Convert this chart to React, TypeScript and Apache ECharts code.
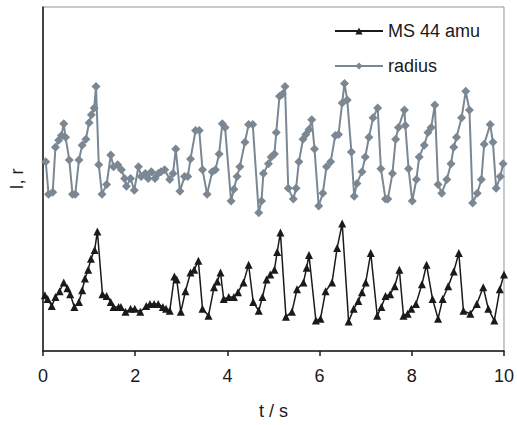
import React, { useEffect, useRef } from "react";
import * as echarts from "echarts";

// time (s) and intensity (arbitrary units)
const msTime = [0.04,0.10,0.19,0.27,0.36,0.45,0.53,0.59,0.68,0.78,0.85,0.91,0.98,1.04,1.12,1.18,1.29,1.38,1.47,1.53,1.64,1.69,1.79,1.90,1.99,2.11,2.24,2.32,2.41,2.50,2.60,2.67,2.75,2.85,2.90,2.99,3.09,3.20,3.28,3.37,3.46,3.59,3.71,3.78,3.85,3.92,4.03,4.14,4.23,4.35,4.46,4.56,4.68,4.76,4.85,4.93,5.02,5.08,5.15,5.27,5.40,5.51,5.65,5.72,5.77,5.92,6.02,6.13,6.27,6.38,6.49,6.63,6.74,6.84,6.92,7.00,7.11,7.25,7.34,7.43,7.53,7.63,7.73,7.82,7.91,7.99,8.09,8.22,8.32,8.45,8.57,8.67,8.79,8.91,9.02,9.12,9.27,9.41,9.55,9.66,9.79,9.91,10.0];
const msValue = [57,53,46,55,61,70,64,58,45,50,62,74,83,94,103,122,58,56,50,45,45,45,40,43,43,40,46,48,48,48,45,43,41,76,73,40,61,80,83,92,43,36,65,71,80,53,55,55,60,70,88,50,41,55,73,78,83,101,121,35,40,63,70,85,98,31,33,61,70,105,130,30,43,51,60,70,100,36,45,56,58,66,83,36,38,43,48,68,88,53,33,53,66,81,100,41,38,48,65,43,31,63,78];

const radiusTime = [0.06,0.12,0.21,0.27,0.34,0.40,0.45,0.49,0.57,0.64,0.70,0.78,0.85,0.93,1.00,1.05,1.11,1.15,1.21,1.28,1.38,1.47,1.53,1.62,1.70,1.77,1.81,1.90,1.98,2.07,2.13,2.22,2.28,2.35,2.43,2.50,2.56,2.64,2.75,2.82,2.88,2.97,3.07,3.14,3.20,3.31,3.39,3.46,3.56,3.67,3.74,3.82,3.89,3.95,4.08,4.14,4.21,4.27,4.38,4.46,4.55,4.68,4.74,4.78,4.89,4.95,5.02,5.06,5.13,5.19,5.25,5.32,5.43,5.49,5.55,5.64,5.70,5.77,5.83,5.89,5.98,6.07,6.15,6.24,6.34,6.41,6.49,6.54,6.60,6.69,6.75,6.81,6.92,6.99,7.07,7.16,7.26,7.33,7.43,7.48,7.58,7.65,7.71,7.84,7.86,7.93,8.01,8.10,8.16,8.27,8.35,8.42,8.50,8.57,8.65,8.76,8.85,8.91,8.97,9.08,9.17,9.25,9.32,9.42,9.51,9.57,9.70,9.76,9.83,9.92,9.98];
const radiusValue = [193,160,162,208,215,220,232,218,195,160,160,195,210,216,233,241,248,270,190,160,170,200,188,190,185,176,168,176,164,188,178,181,176,183,176,181,183,185,175,181,206,163,178,178,196,225,225,185,160,183,185,201,232,228,153,165,178,188,213,231,231,141,153,181,191,198,201,223,260,262,270,166,155,166,193,216,221,226,236,206,148,161,188,193,220,221,253,273,256,203,158,171,183,198,218,238,248,186,155,155,181,216,228,246,230,186,153,175,198,210,223,228,251,170,161,175,191,208,218,238,265,246,151,161,175,211,231,213,166,178,191];

const xTicks = [0, 2, 4, 6, 8, 10];

export default function App() {
  const ref = useRef<HTMLDivElement>(null);
  useEffect(() => {
    if (!ref.current) return;
    const chart = echarts.init(ref.current, undefined, { renderer: "svg" });
    const font = "Liberation Sans, Arial, sans-serif";
    chart.setOption({
      animation: false,
      backgroundColor: "#ffffff",
      grid: {
        left: 38,
        top: 7,
        right: 10.5,
        bottom: 67,
        show: true,
        borderColor: "#8c969e",
        borderWidth: 1,
      },
      legend: {
        orient: "vertical",
        left: 334,
        top: 22,
        itemWidth: 48,
        itemHeight: 9,
        itemGap: 17,
        padding: 0,
        textStyle: { fontSize: 18, color: "#1a1a1a", fontFamily: font },
        data: ["MS 44 amu", "radius"],
      },
      xAxis: {
        type: "value",
        min: 0,
        max: 10,
        interval: 2,
        name: "t / s",
        nameLocation: "middle",
        nameGap: 51,
        nameTextStyle: { fontSize: 18, color: "#1a1a1a", fontFamily: font },
        axisLine: { show: true, lineStyle: { color: "#1a1a1a", width: 1.5 } },
        axisTick: { show: true, length: 5, lineStyle: { color: "#1a1a1a", width: 1.5 } },
        axisLabel: {
          fontSize: 18,
          color: "#1a1a1a",
          fontFamily: font,
          margin: 16,
          formatter: (v: number) => (xTicks.includes(v) ? String(v) : ""),
        },
        splitLine: { show: false },
      },
      yAxis: {
        type: "value",
        min: 0,
        max: 351,
        name: "I, r",
        nameLocation: "middle",
        nameGap: 17,
        nameRotate: 90,
        nameTextStyle: { fontSize: 18, color: "#1a1a1a", fontFamily: font },
        axisLine: { show: true, lineStyle: { color: "#1a1a1a", width: 1.5 } },
        axisTick: { show: false },
        axisLabel: { show: false },
        splitLine: { show: false },
      },
      series: [
        {
          name: "MS 44 amu",
          type: "line",
          data: msTime.map((t, i) => [t, msValue[i]]),
          symbol: "triangle",
          symbolSize: 8,
          lineStyle: { color: "#1a1a1a", width: 1.5 },
          itemStyle: { color: "#1a1a1a" },
        },
        {
          name: "radius",
          type: "line",
          data: radiusTime.map((t, i) => [t, radiusValue[i]]),
          symbol: "diamond",
          symbolSize: 9,
          lineStyle: { color: "#7b8894", width: 2 },
          itemStyle: { color: "#7b8894" },
        },
      ],
    });
    return () => chart.dispose();
  }, []);
  return (
    <div
      ref={ref}
      style={{ position: "fixed", left: 0, top: 0, width: 517, height: 425 }}
    />
  );
}
